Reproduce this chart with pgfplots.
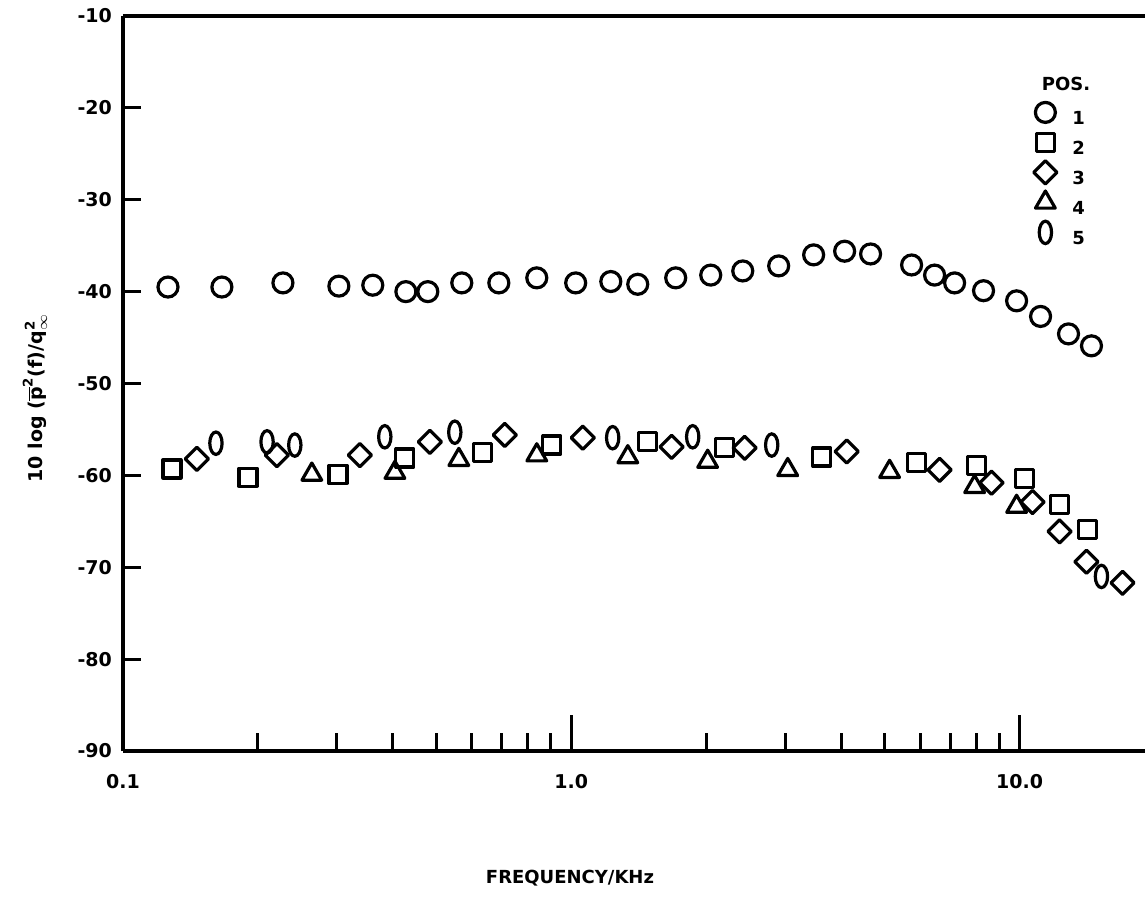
\documentclass[border=0pt]{standalone}
\usepackage{fontspec}
\setmainfont{DejaVu Sans}
\usepackage{amsmath}
\usepackage{pgfplots}
\pgfplotsset{compat=1.18}
\pgfdeclareplotmark{rdiamond}{%
  \pgfpathmoveto{\pgfqpoint{0pt}{\pgfplotmarksize}}%
  \pgfpathlineto{\pgfqpoint{\pgfplotmarksize}{0pt}}%
  \pgfpathlineto{\pgfqpoint{0pt}{-\pgfplotmarksize}}%
  \pgfpathlineto{\pgfqpoint{-\pgfplotmarksize}{0pt}}%
  \pgfpathclose\pgfusepathqstroke}
\pgfdeclareplotmark{vellipse}{%
  \pgfpathellipse{\pgfpointorigin}{\pgfqpoint{0.55\pgfplotmarksize}{0pt}}{\pgfqpoint{0pt}{\pgfplotmarksize}}%
  \pgfusepathqstroke}
\begin{document}
\begin{tikzpicture}
\path[use as bounding box] (-61.5pt,-82pt) rectangle (511pt,375.5pt);
\begin{axis}[
  at={(0,0)}, anchor=south west,
  scale only axis, width=511pt, height=367.5pt,
  xmode=log, xmin=0.1, xmax=19.05, ymin=-90, ymax=-10,
  clip=false,
  axis x line*=bottom, axis y line*=left,
  axis line style={line width=1.9pt, -},
  tick align=inside,
  major tick length=9pt, minor tick length=9pt,
  every tick/.style={line width=1.5pt, black},
  xtick={0.1,1,10}, xticklabels={0.1,1.0,10.0},
  minor xtick={0.2,0.3,0.4,0.5,0.6,0.7,0.8,0.9,2,3,4,5,6,7,8,9},
  extra x ticks={1,10}, extra x tick labels={},
  extra x tick style={major tick length=18pt},
  ytick={-90,-80,...,-10},
  /pgf/number format/assume math mode=true,
  tick label style={font=\bfseries\fontsize{9.5}{10}\selectfont},
  xticklabel shift=8pt,
  yticklabel shift=2pt,
  xlabel={FREQUENCY/KHz},
  xlabel style={font=\bfseries\fontsize{9}{10}\selectfont, at={(rel axis cs:0.4374,-0.1728)}, anchor=center},
  ylabel={10 log ($\overline{\text{p}}^{\text{2}}$(f)/$\text{q}_{\infty}^{\text{2}}$},
  ylabel style={font=\bfseries\fontsize{9.5}{11}\selectfont, at={(rel axis cs:-0.0861,0.48)}, anchor=center},
  legend style={draw=none, fill=none, at={(rel axis cs:0.8904,0.8898)}, anchor=north west,
    inner sep=0pt, row sep=0pt, font=\bfseries\fontsize{9}{10}\selectfont,
    nodes={inner sep=0pt},
    /tikz/every odd column/.append style={column sep=7.5pt}},
  legend cell align=left,
  legend image code/.code={\path[draw=none,fill=none] (0pt,-4.2pt) rectangle (12pt,10.8pt); \draw[#1] plot coordinates {(6pt,3.3pt)};},
]
\addplot[only marks, mark=o, mark size=5pt, mark options={line width=1.6pt}] table {
0.1260 -39.5
0.1662 -39.5
0.2274 -39.05
0.3031 -39.4
0.3608 -39.3
0.4276 -40.0
0.4786 -40.0
0.5699 -39.05
0.6894 -39.05
0.8377 -38.5
1.023 -39.05
1.225 -38.9
1.407 -39.2
1.710 -38.5
2.047 -38.2
2.413 -37.75
2.902 -37.2
3.473 -36.0
4.072 -35.6
4.653 -35.9
5.744 -37.1
6.464 -38.2
7.164 -39.05
8.311 -39.9
9.85 -41.0
11.14 -42.7
12.86 -44.6
14.47 -45.9
};
\addlegendentry{1}
\addplot[only marks, mark=square, mark size=4.5pt, mark options={line width=1.6pt, line join=round}] table {
0.1286 -59.3
0.190 -60.2
0.3016 -59.9
0.4254 -58.1
0.635 -57.55
0.905 -56.7
1.48 -56.35
2.20 -57.0
3.62 -58.0
5.89 -58.6
8.02 -58.9
10.26 -60.3
12.28 -63.2
14.18 -65.9
};
\addlegendentry{2}
\addplot[only marks, mark=rdiamond, mark size=5.8pt, mark options={line width=1.6pt, line join=round}] table {
0.1462 -58.2
0.2205 -57.8
0.3377 -57.8
0.4836 -56.35
0.7108 -55.6
1.061 -55.9
1.675 -56.9
2.437 -57.0
4.115 -57.4
6.63 -59.4
8.66 -60.8
10.69 -62.9
12.28 -66.1
14.1 -69.4
16.97 -71.7
};
\addlegendentry{3}
\addplot[only marks, mark=triangle, mark size=5.7pt, mark options={line width=1.6pt, line join=round}] table {
0.2638 -59.9
0.4043 -59.7
0.5613 -58.3
0.8377 -57.8
1.337 -58.0
2.015 -58.5
3.04 -59.4
5.13 -59.6
7.94 -61.25
9.85 -63.4
};
\addlegendentry{4}
\addplot[only marks, mark=vellipse, mark size=5.6pt, mark options={line width=1.6pt}] table {
0.1612 -56.5
0.2096 -56.35
0.2417 -56.7
0.3838 -55.8
0.5498 -55.3
1.237 -55.9
1.866 -55.8
2.80 -56.7
15.23 -71.0
};
\addlegendentry{5}
\draw[line width=1.9pt] (rel axis cs:0,1) -- (rel axis cs:1,1);
\node[font=\bfseries\fontsize{9}{10}\selectfont] at (rel axis cs:0.9227,0.9075) {POS.};
\end{axis}
\end{tikzpicture}
\end{document}
